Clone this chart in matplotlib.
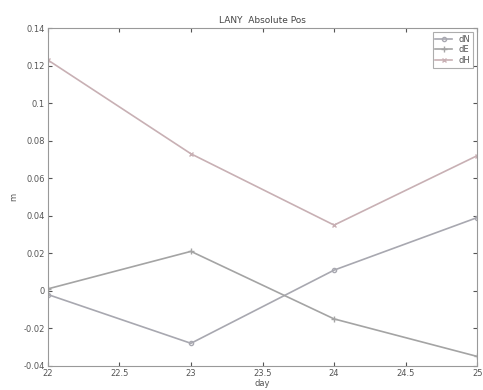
import matplotlib.pyplot as plt

days = [22, 23, 24, 25]
dN = [-0.002, -0.028, 0.011, 0.039]
dE = [0.001, 0.021, -0.015, -0.035]
dH = [0.123, 0.073, 0.035, 0.072]

fig = plt.figure(figsize=(4.83, 3.9), dpi=100)
ax = fig.add_axes([0.099, 0.062, 0.889, 0.866])

ax.plot(days, dN, color='#a8a8b0', marker='o', markersize=3, mfc='none', lw=1.2, label='dN')
ax.plot(days, dE, color='#a4a4a4', marker='+', markersize=4, lw=1.2, label='dE')
ax.plot(days, dH, color='#c8b0b4', marker='x', markersize=3, lw=1.2, label='dH')

ax.set_xlim(22, 25)
ax.set_ylim(-0.04, 0.14)
ax.set_xticks([22, 22.5, 23, 23.5, 24, 24.5, 25])
ax.set_xticklabels(['22', '22.5', '23', '23.5', '24', '24.5', '25'])
ax.set_yticks([-0.04, -0.02, 0, 0.02, 0.04, 0.06, 0.08, 0.1, 0.12, 0.14])
ax.set_yticklabels(['-0.04', '-0.02', '0', '0.02', '0.04', '0.06', '0.08', '0.1', '0.12', '0.14'])
ax.tick_params(labelsize=6, colors='#555555', direction='in', length=3, top=True, right=True, pad=2)
for s in ax.spines.values():
    s.set_color('#999999')

ax.set_title('LANY  Absolute Pos', fontsize=6.5, color='#444444', pad=4)
ax.set_xlabel('day', fontsize=6, color='#555555', labelpad=1)
ax.set_ylabel('m', fontsize=6, color='#555555', labelpad=4)

leg = ax.legend(loc='upper right', fontsize=6, frameon=True, fancybox=False,
                edgecolor='#999999', handlelength=2, borderpad=0.3, labelspacing=0.2,
                labelcolor='#555555')
leg.get_frame().set_linewidth(0.8)

fig.savefig('out.png', dpi=100)
